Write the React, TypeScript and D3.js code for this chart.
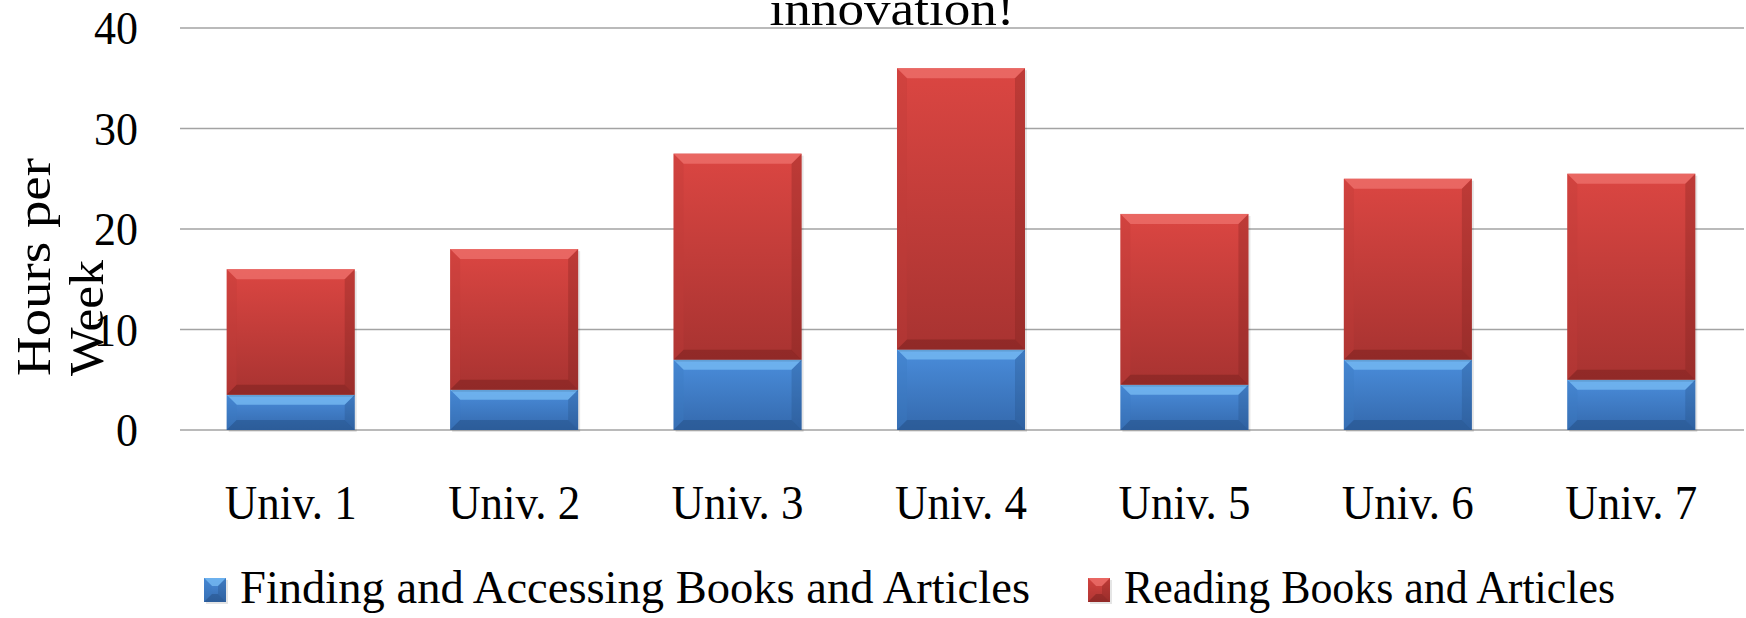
import React from "react";
import * as d3 from "d3";

// chart values
const universities = ["Univ. 1", "Univ. 2", "Univ. 3", "Univ. 4", "Univ. 5", "Univ. 6", "Univ. 7"];
const findingHours = [3.5, 4, 7, 8, 4.5, 7, 5];
const readingHours = [12.5, 14, 20.5, 28, 17, 18, 20.5];
const yTicks = [0, 10, 20, 30, 40];
const seriesNames = ["Finding and Accessing Books and Articles", "Reading Books and Articles"];

const W = 1746;
const H = 618;
const FONT = "'Liberation Serif', 'DejaVu Serif', serif";

const palette = {
  blue: { top: "#4a8ddb", bottom: "#3469ad", hi: "#7cc0f7", side: "#3d7cc4", low: "#234f86" },
  red: { top: "#db4642", bottom: "#a83331", hi: "#ef7570", side: "#c03b38", low: "#7a201e" },
};

function BevelBar({ x, y, w, h, c, id }: { x: number; y: number; w: number; h: number; c: typeof palette.red; id: string }) {
  const b = Math.min(10, h / 3);
  return (
    <g>
      <rect x={x + 2} y={y + 2} width={w} height={h} fill="#000" opacity={0.1} />
      <rect x={x} y={y} width={w} height={h} fill={`url(#${id})`} />
      {/* bevel edges */}
      <polygon points={`${x},${y} ${x + w},${y} ${x + w - b},${y + b} ${x + b},${y + b}`} fill={c.hi} opacity={0.7} />
      <polygon points={`${x},${y} ${x + b},${y + b} ${x + b},${y + h - b} ${x},${y + h}`} fill={c.side} opacity={0.35} />
      <polygon points={`${x + w},${y} ${x + w - b},${y + b} ${x + w - b},${y + h - b} ${x + w},${y + h}`} fill={c.low} opacity={0.3} />
      <polygon points={`${x},${y + h} ${x + b},${y + h - b} ${x + w - b},${y + h - b} ${x + w},${y + h}`} fill={c.low} opacity={0.5} />
    </g>
  );
}

export default function App() {
  const x = d3.scaleBand<string>().domain(universities).range([179, 1743]).paddingInner(0.427).paddingOuter(0.2135);
  const y = d3.scaleLinear().domain([0, 40]).range([430, 28]);

  const rows = universities.map((u, i) => ({ u, finding: findingHours[i], reading: readingHours[i] }));
  const stacked = d3.stack<any>().keys(["finding", "reading"])(rows);

  return (
    <svg width={W} height={H} style={{ position: "absolute", left: 0, top: 0, background: "#fff" }} fontFamily={FONT}>
      <defs>
        {(["blue", "red"] as const).map((k) => (
          <linearGradient key={k} id={`g-${k}`} x1="0" y1="0" x2="0" y2="1">
            <stop offset="0%" stopColor={palette[k].top} />
            <stop offset="100%" stopColor={palette[k].bottom} />
          </linearGradient>
        ))}
      </defs>

      {/* title, first line cut off above the frame */}
      <text x={892} y={25} fontSize={48} textAnchor="middle" fill="#000" textLength={245} lengthAdjust="spacingAndGlyphs">innovation!</text>

      {/* gridlines + y ticks */}
      {yTicks.map((t) => (
        <g key={t}>
          <line x1={180} x2={1744} y1={y(t)} y2={y(t)} stroke="#a3a3a3" strokeWidth={1.6} />
          <text x={138} y={y(t)} dy="0.35em" fontSize={46} textAnchor="end" fill="#000"
            textLength={t === 0 ? 22 : 44} lengthAdjust="spacingAndGlyphs">{t}</text>
        </g>
      ))}

      {/* y axis title */}
      <text transform="translate(50,376) rotate(-90)" fontSize={48} fill="#000">
        <tspan x={0} y={0} textLength={218} lengthAdjust="spacingAndGlyphs">Hours per</tspan>
        <tspan x={0} y={53} textLength={116} lengthAdjust="spacingAndGlyphs">Week</tspan>
      </text>

      {/* bars */}
      {stacked.map((layer, li) =>
        layer.map((d, i) => {
          const bx = x(universities[i]) as number;
          const y0 = y(d[0]);
          const y1 = y(d[1]);
          const k = li === 0 ? "blue" : "red";
          return <BevelBar key={`${li}-${i}`} x={bx} y={y1} w={x.bandwidth()} h={y0 - y1} c={palette[k]} id={`g-${k}`} />;
        })
      )}

      {/* category labels */}
      {universities.map((u) => (
        <text key={u} x={(x(u) as number) + x.bandwidth() / 2} y={519} fontSize={48} textAnchor="middle" fill="#000"
          textLength={132} lengthAdjust="spacingAndGlyphs">{u}</text>
      ))}

      {/* legend */}
      <g>
        <BevelBar x={204} y={578} w={22} h={24} c={palette.blue} id="g-blue" />
        <text x={240} y={603} fontSize={46} fill="#000" textLength={790} lengthAdjust="spacingAndGlyphs">{seriesNames[0]}</text>
        <BevelBar x={1088} y={578} w={22} h={24} c={palette.red} id="g-red" />
        <text x={1124} y={603} fontSize={46} fill="#000" textLength={491} lengthAdjust="spacingAndGlyphs">{seriesNames[1]}</text>
      </g>
    </svg>
  );
}
